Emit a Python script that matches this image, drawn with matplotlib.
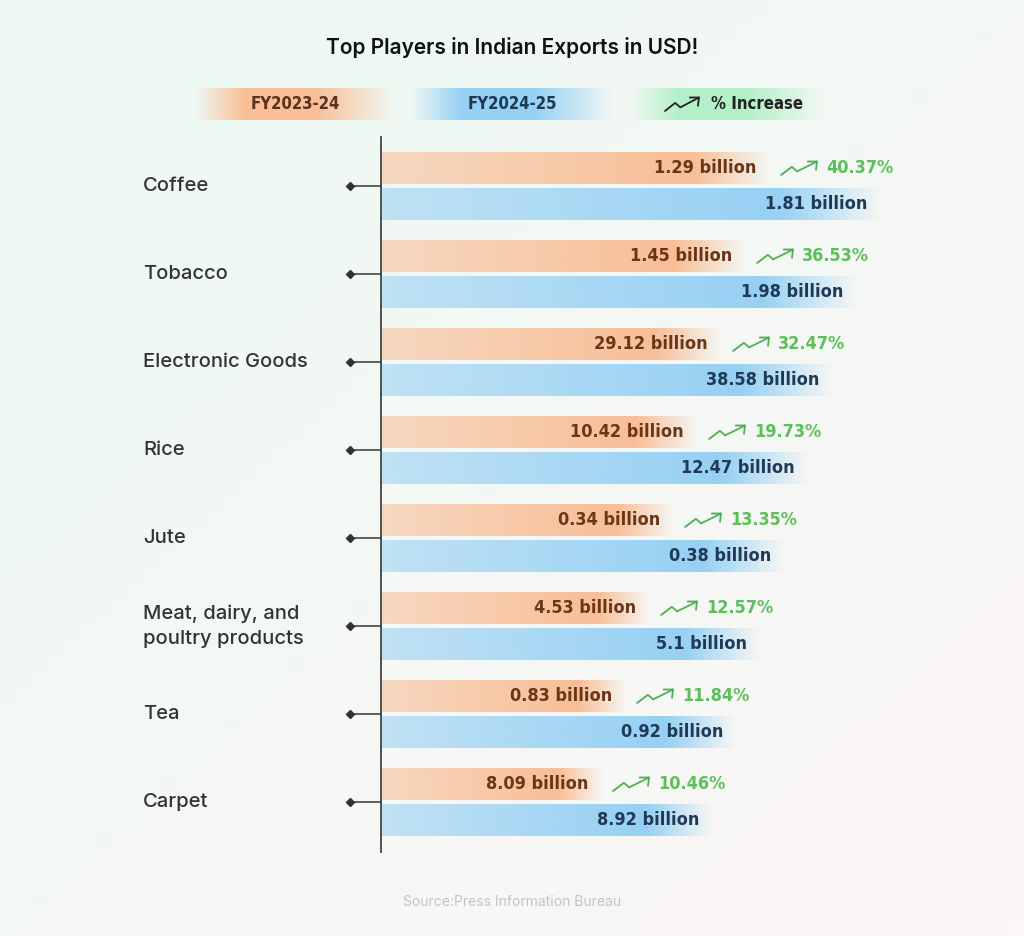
import matplotlib
matplotlib.use("Agg")
import matplotlib.pyplot as plt
import numpy as np
from matplotlib import font_manager

categories = ["Coffee", "Tobacco", "Electronic Goods", "Rice", "Jute",
              "Meat, dairy, and\npoultry products", "Tea", "Carpet"]
fy2324 = ["1.29", "1.45", "29.12", "10.42", "0.34", "4.53", "0.83", "8.09"]
fy2425 = ["1.81", "1.98", "38.58", "12.47", "0.38", "5.1", "0.92", "8.92"]
pct_increase = [40.37, 36.53, 32.47, 19.73, 13.35, 12.57, 11.84, 10.46]
# bars are drawn by rank (decorative), not to scale with the values
rank_len_orange = [390, 366, 342, 318, 294, 270, 246, 222]
rank_len_blue = [500, 476, 452, 428, 404, 380, 356, 332]

names = {f.name for f in font_manager.fontManager.ttflist}
txt_font = "Inter" if "Inter" in names else "DejaVu Sans"
NUM = dict(family="DejaVu Sans", fontstretch="condensed", fontweight="bold")

ORANGE = np.array([249, 190, 150]) / 255
BLUE = np.array([150, 208, 244]) / 255
GREEN = np.array([180, 240, 200]) / 255

fig = plt.figure(figsize=(10.24, 9.36), dpi=100)
ax = fig.add_axes([0, 0, 1, 1])
ax.set_xlim(0, 1024)
ax.set_ylim(936, 0)
ax.axis("off")

# background
gx, gy = np.meshgrid(np.linspace(0, 1, 64), np.linspace(0, 1, 64))
t = (gx + gy) / 2
c0 = np.array([236, 250, 243]) / 255
c1 = np.array([252, 246, 246]) / 255
bg = c0[None, None, :] * (1 - t[..., None]) + c1[None, None, :] * t[..., None]
ax.imshow(bg, extent=(0, 1024, 936, 0), aspect="auto", zorder=0)


def grad_bar(x0, x1, y0, y1, col, solid=0.7, fade_in=False, start=0.55):
    n = 200
    s = np.linspace(0, 1, n)
    a = np.where(s < solid, start + (1 - start) * s / solid, 1 - (s - solid) / (1 - solid))
    if fade_in:
        a = np.minimum(a, np.clip(s / 0.25, 0, 1))
    img = np.zeros((1, n, 4))
    img[..., :3] = col
    img[..., 3] = a
    ax.imshow(img, extent=(x0, x1, y1, y0), aspect="auto", zorder=1,
              interpolation="bilinear")


def arrow_icon(x, y, col, w=34):
    xs = np.array([0, 0.3, 0.45, 1.0]) * w + x
    ys = np.array([0, -0.45, -0.2, -0.75]) * 18 + y + 7
    ax.plot(xs, ys, color=col, lw=1.3, zorder=3, solid_capstyle="round")
    ax.plot([xs[-1] - 9, xs[-1], xs[-1] - 1], [ys[-1], ys[-1], ys[-1] + 8],
            color=col, lw=1.3, zorder=3)


ax.text(512, 48, "Top Players in Indian Exports in USD!", ha="center", va="center",
        fontsize=15, family=txt_font, color="#111111", fontweight="semibold")

# legend pills
grad_bar(195, 395, 88, 120, ORANGE, solid=0.6, fade_in=True, start=1)
ax.text(295, 104, "FY2023-24", ha="center", va="center", fontsize=12,
        color="#5a3220", zorder=3, **NUM)
grad_bar(410, 615, 88, 120, BLUE, solid=0.6, fade_in=True, start=1)
ax.text(512, 104, "FY2024-25", ha="center", va="center", fontsize=12,
        color="#1d3a52", zorder=3, **NUM)
grad_bar(630, 825, 88, 120, GREEN, solid=0.6, fade_in=True, start=1)
arrow_icon(665, 104, "#222222")
ax.text(711, 104, "% Increase", ha="left", va="center", fontsize=12,
        color="#222222", zorder=3, **NUM)

# axis line
ax.plot([381, 381], [137, 852], color="#444444", lw=1.3, zorder=2)

for i, cat in enumerate(categories):
    yc = 186 + 88 * i
    ax.text(143, yc, cat, ha="left", va="center", fontsize=14.5, family=txt_font,
            color="#333333", fontweight="medium", linespacing=1.5)
    ax.plot([350, 381], [yc, yc], color="#444444", lw=1.2, zorder=2)
    ax.plot(350, yc, marker="D", ms=4.5, color="#333333", zorder=3)
    ox1 = 381 + rank_len_orange[i]
    bx1 = 381 + rank_len_blue[i]
    grad_bar(382, ox1, yc - 34, yc - 2, ORANGE, solid=0.8)
    grad_bar(382, bx1, yc + 2, yc + 34, BLUE, solid=0.8)
    ax.text(ox1 - 15, yc - 18, fy2324[i] + " billion", ha="right", va="center",
            fontsize=13, color="#6b3518", zorder=3, **NUM)
    arrow_icon(ox1 + 10, yc - 18, "#4caf50", w=36)
    ax.text(ox1 + 55, yc - 18, f"{pct_increase[i]:.2f}%", ha="left", va="center",
            fontsize=13, color="#5cbf5a", zorder=3, **NUM)
    ax.text(bx1 - 14, yc + 18, fy2425[i] + " billion", ha="right", va="center",
            fontsize=13, color="#1e3a55", zorder=3, **NUM)

ax.text(512, 902, "Source:Press Information Bureau", ha="center", va="center",
        fontsize=10, family=txt_font, color="#c4c4c4")

fig.savefig("out.png", dpi=100)
